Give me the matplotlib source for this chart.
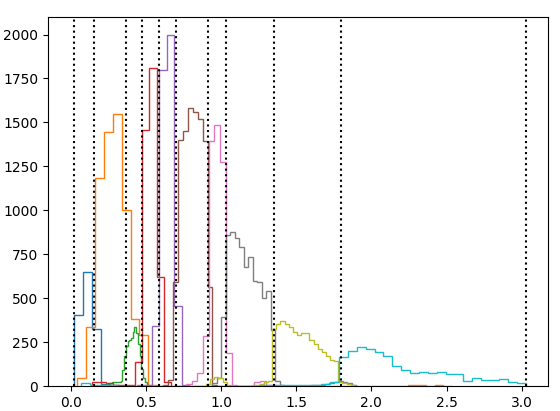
import numpy as np
import matplotlib
matplotlib.use('Agg')
import matplotlib.pyplot as plt

# bin counts of each class histogram
blue_counts = [405, 646, 323, 10, 4, 2]
orange_counts = [44, 336, 1183, 1446, 1546, 1001, 380, 290, 3,
                 0, 0, 0, 0, 0, 0, 0, 0, 0, 0, 0, 0, 0, 0, 0, 0, 0, 0, 0,
                 0, 0, 0, 0, 0, 0, 0, 0, 0, 3, 3, 2, 3, 2]
green_counts = [2, 3, 5, 8, 12, 15, 18, 20, 20, 22, 22, 24, 30, 90, 170, 230,
                255, 262, 275, 305, 335, 300, 240, 170, 95, 45, 20, 5]
red_counts = [20, 22, 15, 5, 3, 3, 138, 1459, 1810, 623, 25]
purple_counts = [3, 5, 342, 1800, 1997, 457, 5]
brown_counts = [5, 34, 594, 1398, 1453, 1582, 1557, 1521, 1392, 566, 5]
pink_counts = [10, 28, 72, 283, 1392, 1487, 1272, 186, 3, 2, 2, 2, 22, 28, 8, 3, 1]
gray_counts = [15, 45, 395, 860, 878, 840, 790, 680, 735, 595, 590, 500, 540, 320,
               30, 5, 2, 2, 1, 1, 2, 2, 3, 5, 8, 12, 18, 25, 30, 20, 15, 8]
olive_counts = [10, 40, 53, 45, 20, 5, 2, 1, 1, 1, 2, 3, 5, 10, 20, 30,
                325, 355, 368, 355, 335, 308, 292, 300, 303, 260, 240, 212, 193, 168, 148, 145,
                25, 15, 10, 5]
cyan_counts = [15, 8, 4, 3, 2, 2, 1, 1, 1, 1, 1, 1, 1, 1, 2, 2, 2, 2, 2, 2,
               3, 3, 4, 4, 5, 5, 8, 12, 25,
               167, 201, 220, 211, 196, 171, 114, 91, 76, 82, 72, 78, 68, 68, 30, 44, 34, 34, 38, 21, 15]

# bin ranges (first edge, last edge) of each histogram
ranges = [(0.024, 0.378), (0.040, 2.539), (0.193, 0.515), (0.138, 0.666), (0.439, 0.789),
          (0.616, 0.975), (0.767, 1.409), (0.94, 1.90), (0.90, 1.89), (0.067, 3.027)]

# class boundaries (dotted lines)
boundaries = [0.020, 0.155, 0.366, 0.471, 0.585, 0.697, 0.912, 1.030, 1.351, 1.796, 3.027]

all_counts = [blue_counts, orange_counts, green_counts, red_counts, purple_counts,
              brown_counts, pink_counts, gray_counts, olive_counts, cyan_counts]

fig = plt.figure(figsize=(5.6, 4.11), dpi=100)
ax = fig.add_axes([48 / 560, 25 / 411, 500 / 560, 369 / 411])

for i, counts in enumerate(all_counts):
    lo, hi = ranges[i]
    edges = np.linspace(lo, hi, len(counts) + 1)
    ax.stairs(counts, edges, color='C%d' % i, linewidth=1.0)

for b in boundaries:
    ax.axvline(b, color='black', linestyle=':', linewidth=1.5)

ax.set_xlim(-0.152, 3.175)
ax.set_ylim(0, 2100)

plt.savefig('out.png', dpi=100)
